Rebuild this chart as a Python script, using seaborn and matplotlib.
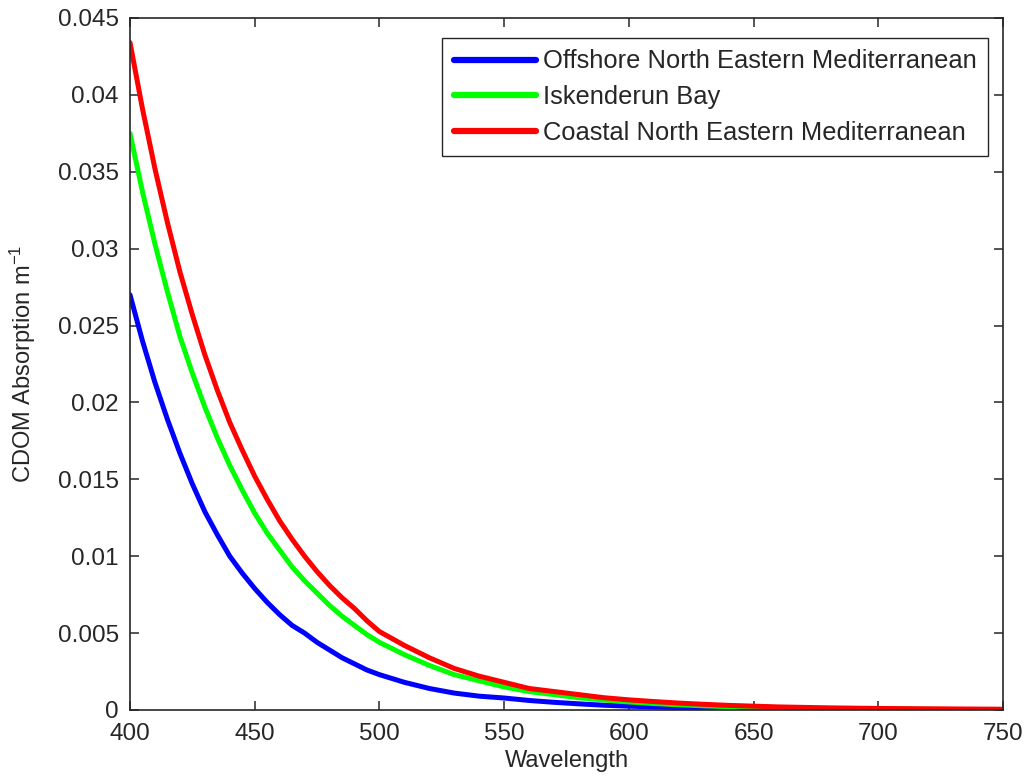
import numpy as np
import pandas as pd
import matplotlib
matplotlib.use("Agg")
import matplotlib.pyplot as plt
import seaborn as sns

# Wavelength (nm)
wavelength = [400, 405, 410, 415, 420, 425, 430, 435, 440, 445,
              450, 455, 460, 465, 470, 475, 480, 485, 490, 495,
              500, 510, 520, 530, 540, 550, 560, 570, 580, 590,
              600, 610, 620, 630, 640, 650, 660, 670, 680, 690,
              700, 710, 720, 730, 740, 750]

# CDOM absorption (m^-1)
offshore = [0.0270, 0.0240, 0.0213, 0.0189, 0.0167, 0.0147, 0.0129, 0.0114, 0.0100, 0.0089,
            0.0079, 0.0070, 0.0062, 0.0055, 0.0050, 0.0044, 0.0039, 0.0034, 0.0030, 0.0026,
            0.0023, 0.0018, 0.0014, 0.0011, 0.00090, 0.00078, 0.00062, 0.00050, 0.00040, 0.00031,
            0.00025, 0.00020, 0.00015, 0.00012, 0.00010, 0.00008, 0.00006, 0.00005, 0.00004, 0.00003,
            0.00003, 0.00002, 0.00002, 0.00002, 0.00001, 0.00001]

iskenderun = [0.0375, 0.0337, 0.0303, 0.0272, 0.0243, 0.0219, 0.0197, 0.0177, 0.0159, 0.0143,
              0.0128, 0.0115, 0.0104, 0.0093, 0.0084, 0.0076, 0.0068, 0.0061, 0.0055, 0.0049,
              0.0044, 0.0036, 0.0029, 0.0023, 0.0019, 0.0015, 0.0012, 0.0010, 0.00080, 0.00065,
              0.00052, 0.00042, 0.00034, 0.00027, 0.00022, 0.00018, 0.00014, 0.00012, 0.00010, 0.00008,
              0.00006, 0.00005, 0.00004, 0.00003, 0.00003, 0.00002]

coastal = [0.0434, 0.0391, 0.0352, 0.0317, 0.0285, 0.0257, 0.0231, 0.0208, 0.0187, 0.0169,
           0.0152, 0.0137, 0.0123, 0.0111, 0.0100, 0.0090, 0.0081, 0.0073, 0.0066, 0.0058,
           0.0051, 0.0042, 0.0034, 0.0027, 0.0022, 0.0018, 0.0014, 0.0012, 0.0010, 0.00080,
           0.00066, 0.00055, 0.00045, 0.00037, 0.00030, 0.00025, 0.00020, 0.00017, 0.00014, 0.00012,
           0.00010, 0.00009, 0.00008, 0.00007, 0.00006, 0.00005]

series_names = ["Offshore North Eastern Mediterranean",
                "Iskenderun Bay",
                "Coastal North Eastern Mediterranean"]
series_colors = ["#0000ff", "#00ff00", "#ff0000"]

x_ticks = [400, 450, 500, 550, 600, 650, 700, 750]
y_ticks = [0, 0.005, 0.01, 0.015, 0.02, 0.025, 0.03, 0.035, 0.04, 0.045]
y_tick_labels = ["0", "0.005", "0.01", "0.015", "0.02", "0.025", "0.03", "0.035", "0.04", "0.045"]

df = pd.DataFrame({
    "Wavelength": wavelength * 3,
    "Absorption": offshore + iskenderun + coastal,
    "Site": [series_names[0]] * len(wavelength)
            + [series_names[1]] * len(wavelength)
            + [series_names[2]] * len(wavelength),
})

sns.set_style("ticks")
plt.rcParams["font.family"] = ["Liberation Sans", "DejaVu Sans"]
plt.rcParams["mathtext.default"] = "regular"

fig = plt.figure(figsize=(10.30, 7.81), dpi=100)
ax = fig.add_axes([130 / 1030, 1 - 710 / 781, 873 / 1030, 692 / 781])

sns.lineplot(data=df, x="Wavelength", y="Absorption", hue="Site",
             hue_order=series_names, palette=series_colors,
             linewidth=3.6, ax=ax, legend=True)

ax.set_xlim(400, 750)
ax.set_ylim(0, 0.045)
ax.set_xticks(x_ticks)
ax.set_xticklabels([str(t) for t in x_ticks])
ax.set_yticks(y_ticks)
ax.set_yticklabels(y_tick_labels)

for s in ax.spines.values():
    s.set_visible(True)
    s.set_color("#262626")
    s.set_linewidth(1.2)

ax.tick_params(axis="both", which="major", direction="in", length=6.5, width=1.1,
               top=True, right=True, labelsize=17.5, colors="#262626",
               labelcolor="#262626")
ax.tick_params(axis="x", pad=9)
ax.tick_params(axis="y", pad=8)

ax.set_xlabel("Wavelength", fontsize=17, color="#262626")
ax.set_ylabel("CDOM Absorption m$^{-1}$", fontsize=17, color="#262626")
ax.xaxis.set_label_coords(0.5, -0.058)
ax.yaxis.set_label_coords(-0.105, 0.5)

handles, labels = ax.get_legend_handles_labels()
leg = ax.legend(handles, labels, loc="upper right",
                bbox_to_anchor=((988 - 130) / 873, (710 - 38) / 692),
                borderaxespad=0, fontsize=18.4, frameon=True, fancybox=False,
                edgecolor="#262626", framealpha=1, handlelength=3.2,
                handletextpad=0.28, labelspacing=0.45, borderpad=0.45,
                title=None)
leg.get_frame().set_linewidth(1.0)
for line in leg.get_lines():
    line.set_linewidth(4.5)

fig.savefig("out.png", dpi=100, facecolor="white")
